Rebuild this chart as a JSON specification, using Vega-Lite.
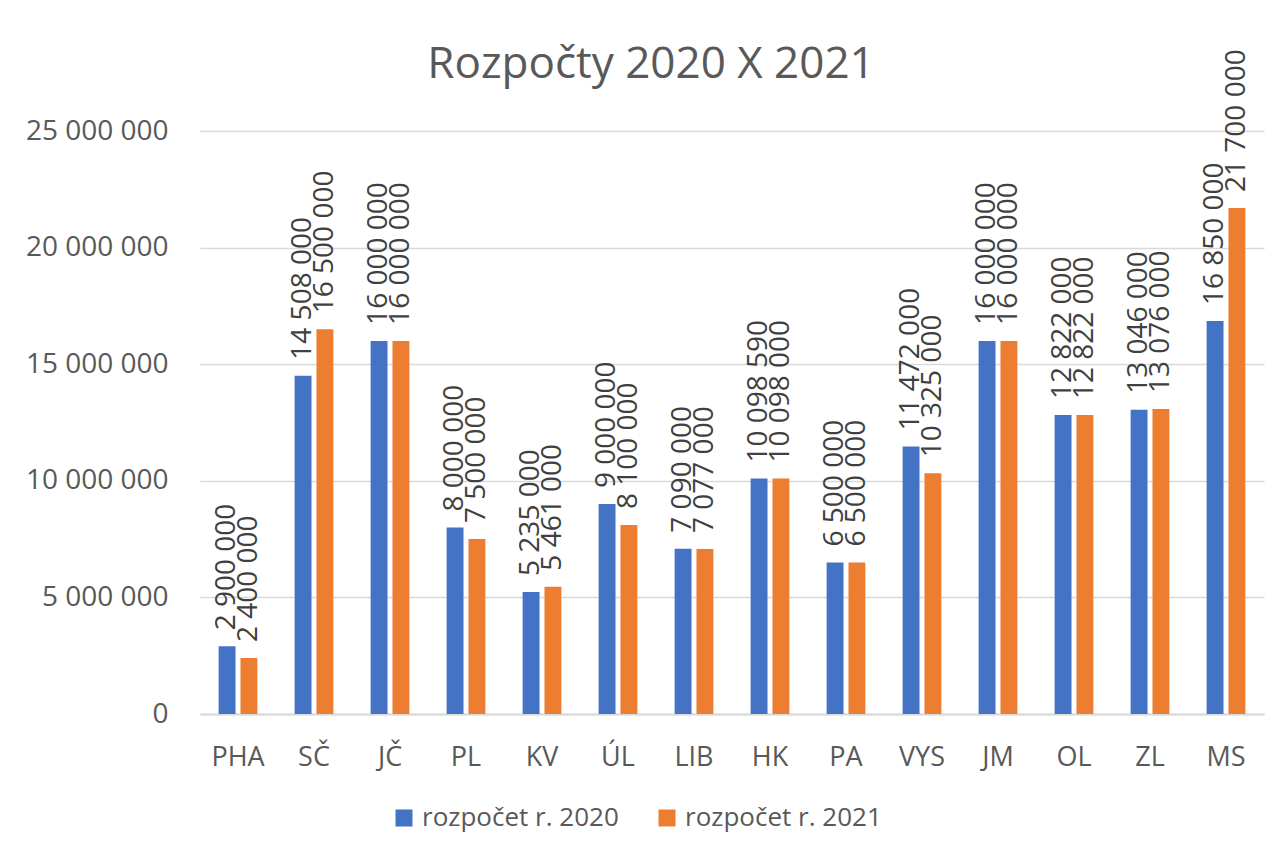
{
  "$schema": "https://vega.github.io/schema/vega-lite/v6.json",
  "width": 1064,
  "height": 583,
  "autosize": "none",
  "padding": {"left": 200, "top": 131, "right": 18, "bottom": 138},
  "background": "white",
  "config": {
    "locale": {"number": {"decimal": ",", "thousands": " ", "grouping": [3], "currency": ["", ""]}},
    "view": {"stroke": null},
    "font": "Open Sans"
  },
  "title": {
    "text": "Rozpočty 2020 X 2021",
    "fontSize": 44,
    "fontWeight": "normal",
    "color": "#595959",
    "font": "Open Sans",
    "anchor": "middle",
    "dx": -81,
    "dy": 78,
    "offset": 40
  },
  "data": {
    "values": [
      {"kraj": "PHA", "rok": "rozpočet r. 2020", "hodnota": 2900000},
      {"kraj": "PHA", "rok": "rozpočet r. 2021", "hodnota": 2400000},
      {"kraj": "SČ", "rok": "rozpočet r. 2020", "hodnota": 14508000},
      {"kraj": "SČ", "rok": "rozpočet r. 2021", "hodnota": 16500000},
      {"kraj": "JČ", "rok": "rozpočet r. 2020", "hodnota": 16000000},
      {"kraj": "JČ", "rok": "rozpočet r. 2021", "hodnota": 16000000},
      {"kraj": "PL", "rok": "rozpočet r. 2020", "hodnota": 8000000},
      {"kraj": "PL", "rok": "rozpočet r. 2021", "hodnota": 7500000},
      {"kraj": "KV", "rok": "rozpočet r. 2020", "hodnota": 5235000},
      {"kraj": "KV", "rok": "rozpočet r. 2021", "hodnota": 5461000},
      {"kraj": "ÚL", "rok": "rozpočet r. 2020", "hodnota": 9000000},
      {"kraj": "ÚL", "rok": "rozpočet r. 2021", "hodnota": 8100000},
      {"kraj": "LIB", "rok": "rozpočet r. 2020", "hodnota": 7090000},
      {"kraj": "LIB", "rok": "rozpočet r. 2021", "hodnota": 7077000},
      {"kraj": "HK", "rok": "rozpočet r. 2020", "hodnota": 10098590},
      {"kraj": "HK", "rok": "rozpočet r. 2021", "hodnota": 10098000},
      {"kraj": "PA", "rok": "rozpočet r. 2020", "hodnota": 6500000},
      {"kraj": "PA", "rok": "rozpočet r. 2021", "hodnota": 6500000},
      {"kraj": "VYS", "rok": "rozpočet r. 2020", "hodnota": 11472000},
      {"kraj": "VYS", "rok": "rozpočet r. 2021", "hodnota": 10325000},
      {"kraj": "JM", "rok": "rozpočet r. 2020", "hodnota": 16000000},
      {"kraj": "JM", "rok": "rozpočet r. 2021", "hodnota": 16000000},
      {"kraj": "OL", "rok": "rozpočet r. 2020", "hodnota": 12822000},
      {"kraj": "OL", "rok": "rozpočet r. 2021", "hodnota": 12822000},
      {"kraj": "ZL", "rok": "rozpočet r. 2020", "hodnota": 13046000},
      {"kraj": "ZL", "rok": "rozpočet r. 2021", "hodnota": 13076000},
      {"kraj": "MS", "rok": "rozpočet r. 2020", "hodnota": 16850000},
      {"kraj": "MS", "rok": "rozpočet r. 2021", "hodnota": 21700000}
    ]
  },
  "encoding": {
    "x": {
      "field": "kraj",
      "type": "nominal",
      "sort": ["PHA", "SČ", "JČ", "PL", "KV", "ÚL", "LIB", "HK", "PA", "VYS", "JM", "OL", "ZL", "MS"],
      "scale": {"paddingInner": 0.49, "paddingOuter": 0.245},
      "axis": {
        "title": null,
        "labelAngle": 0,
        "labelFontSize": 27,
        "labelColor": "#595959",
        "labelPadding": 51,
        "labelBaseline": "alphabetic",
        "ticks": false,
        "domainColor": "#D9D9D9",
        "domainWidth": 2,
        "grid": false
      }
    },
    "xOffset": {
      "field": "rok",
      "type": "nominal",
      "sort": ["rozpočet r. 2020", "rozpočet r. 2021"],
      "scale": {"paddingInner": 0.227, "paddingOuter": 0}
    },
    "y": {
      "field": "hodnota",
      "type": "quantitative",
      "scale": {"domain": [0, 25000000], "nice": false},
      "axis": {
        "title": null,
        "values": [0, 5000000, 10000000, 15000000, 20000000, 25000000],
        "format": ",d",
        "labelFontSize": 28,
        "labelColor": "#595959",
        "labelPadding": 32,
        "domain": false,
        "ticks": false,
        "grid": true,
        "gridColor": "#D9D9D9",
        "gridWidth": 1.5
      }
    }
  },
  "layer": [
    {
      "mark": {"type": "bar"},
      "encoding": {
        "color": {
          "field": "rok",
          "type": "nominal",
          "scale": {"domain": ["rozpočet r. 2020", "rozpočet r. 2021"], "range": ["#4472C4", "#ED7D31"]},
          "legend": {
            "title": null,
            "orient": "none",
            "legendX": 191,
            "legendY": 674,
            "direction": "horizontal",
            "symbolType": "square",
            "symbolSize": 289,
            "symbolStrokeWidth": 0,
            "labelFontSize": 26,
            "labelLimit": 400,
            "labelColor": "#595959",
            "labelOffset": 5,
            "columnPadding": 35,
            "padding": 0
          }
        }
      }
    },
    {
      "mark": {
        "type": "text",
        "angle": 270,
        "align": "left",
        "baseline": "middle",
        "dx": 16,
        "fontSize": 28,
        "color": "#404040"
      },
      "encoding": {
        "text": {"field": "hodnota", "type": "quantitative", "format": ",d"}
      }
    }
  ]
}
